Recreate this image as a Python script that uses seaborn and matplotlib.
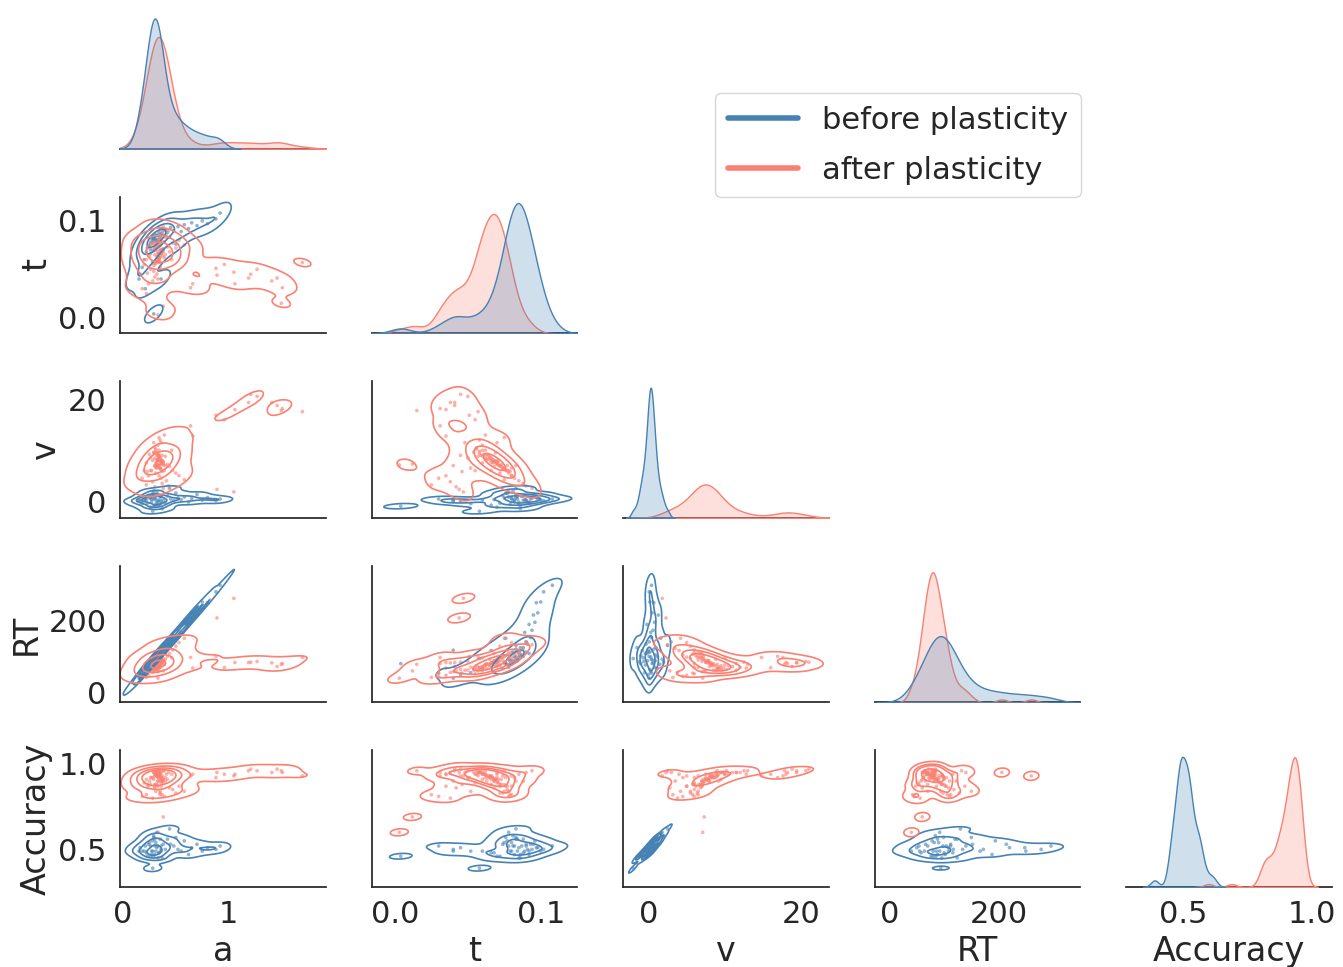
import pandas as pd
import matplotlib.pyplot as plt
import seaborn as sns
from matplotlib.lines import Line2D

groups = ["before plasticity", "after plasticity"]
colors = ["steelblue", "salmon"]
variables = ["a", "t", "v", "RT", "Accuracy"]

# per-variable axis ranges and ticks
limits = {"a": (-0.03, 1.92), "t": (-0.016, 0.125), "v": (-3.3, 23.6),
          "RT": (-27, 350), "Accuracy": (0.28, 1.08)}
ticks = {"a": [0, 1], "t": [0.0, 0.1], "v": [0, 20], "RT": [0, 200],
         "Accuracy": [0.5, 1.0]}

# before plasticity
before_a = [0.30, 0.28, 0.32, 0.26, 0.34, 0.29, 0.31, 0.27, 0.33, 0.25,
            0.36, 0.23, 0.38, 0.30, 0.28, 0.35, 0.22, 0.40, 0.31, 0.27,
            0.42, 0.20, 0.45, 0.33, 0.29, 0.48, 0.18, 0.52, 0.24, 0.37,
            0.55, 0.16, 0.58, 0.32, 0.62, 0.26, 0.65, 0.30, 0.70, 0.21,
            0.75, 0.34, 0.80, 0.44, 0.88, 0.28, 0.92, 0.50, 0.36, 0.15,
            0.29, 0.36]
before_t = [0.082, 0.080, 0.085, 0.078, 0.088, 0.083, 0.079, 0.084, 0.081, 0.075,
            0.087, 0.072, 0.090, 0.086, 0.077, 0.083, 0.068, 0.091, 0.080, 0.082,
            0.088, 0.060, 0.093, 0.085, 0.081, 0.090, 0.052, 0.094, 0.074, 0.086,
            0.089, 0.045, 0.096, 0.078, 0.092, 0.070, 0.098, 0.084, 0.095, 0.030,
            0.100, 0.066, 0.097, 0.083, 0.102, 0.058, 0.108, 0.076, 0.092, 0.040,
            0.004, 0.040]
before_v = [0.3, 0.5, -0.2, 0.8, 0.1, 1.2, -0.6, 0.4, 0.0, 0.6,
            0.9, -0.4, 0.2, -1.0, 1.5, 0.7, 0.3, -0.3, 0.5, -0.1,
            1.0, 0.2, 0.4, -0.7, 2.0, 0.1, -0.5, 0.6, 1.1, -1.5,
            0.3, 0.0, 0.8, 1.8, -0.2, -1.2, 0.5, 0.9, 1.3, 0.4,
            0.2, -0.8, 0.7, 2.5, 0.1, -2.0, 0.4, 1.6, -0.4, 0.1,
            -1.0, 0.0]
before_rt = [98, 80, 108, 70, 100, 99, 86, 92, 112, 82,
             104, 76, 112, 102, 78, 120, 58, 134, 90, 88,
             124, 64, 152, 96, 84, 140, 55, 172, 66, 124,
             166, 50, 194, 92, 188, 85, 220, 88, 214, 54,
             250, 116, 248, 130, 278, 94, 296, 150, 108, 40,
             80, 117]
before_acc = [0.52, 0.49, 0.51, 0.52, 0.48, 0.57, 0.49, 0.49, 0.52, 0.54,
              0.52, 0.46, 0.53, 0.47, 0.55, 0.56, 0.48, 0.50, 0.54, 0.47,
              0.56, 0.49, 0.53, 0.45, 0.58, 0.52, 0.49, 0.50, 0.53, 0.45,
              0.49, 0.51, 0.55, 0.60, 0.47, 0.46, 0.51, 0.56, 0.53, 0.52,
              0.49, 0.48, 0.51, 0.62, 0.50, 0.39, 0.52, 0.57, 0.49, 0.49,
              0.46, 0.50]

# after plasticity (last 17 values are the scattered outliers)
after_a = [0.33, 0.35, 0.31, 0.37, 0.30, 0.34, 0.32, 0.36, 0.29, 0.38,
           0.33, 0.27, 0.40, 0.31, 0.35, 0.25, 0.42, 0.34, 0.30, 0.28,
           0.44, 0.22, 0.36, 0.39, 0.26, 0.47, 0.32, 0.20, 0.41, 0.33,
           0.50, 0.24, 0.37, 0.29, 0.53, 0.18, 0.35, 0.43, 0.28, 0.58,
           0.30, 0.38, 0.22, 0.46, 0.34, 0.26, 0.31, 0.36, 0.40, 0.23,
           0.34, 0.36, 0.32, 0.35, 0.33, 0.37, 0.31, 0.38, 0.30, 0.34,
           0.36, 0.33, 0.35, 0.29, 0.39, 0.32, 0.37, 0.34, 0.31, 0.36,
           0.33, 0.35, 0.30, 0.38, 0.34, 0.32, 0.36, 0.35, 0.33, 0.37,
           1.05, 0.89, 1.19, 1.21, 1.27, 1.41, 1.46, 1.51, 1.70, 1.50,
           1.06, 0.96, 0.88, 0.64, 0.66, 0.38, 0.33]
after_t = [0.068, 0.066, 0.070, 0.064, 0.072, 0.062, 0.074, 0.067, 0.069, 0.071,
           0.060, 0.076, 0.065, 0.078, 0.058, 0.063, 0.073, 0.080, 0.056, 0.070,
           0.068, 0.060, 0.082, 0.062, 0.050, 0.077, 0.045, 0.055, 0.085, 0.040,
           0.072, 0.035, 0.088, 0.048, 0.080, 0.030, 0.052, 0.090, 0.038, 0.075,
           0.042, 0.094, 0.025, 0.060, 0.075, 0.066, 0.058, 0.070, 0.083, 0.046,
           0.062, 0.070, 0.058, 0.074, 0.066, 0.079, 0.056, 0.068, 0.072, 0.060,
           0.076, 0.064, 0.070, 0.054, 0.078, 0.063, 0.069, 0.061, 0.075, 0.067,
           0.059, 0.080, 0.065, 0.071, 0.057, 0.073, 0.066, 0.062, 0.077, 0.068,
           0.047, 0.044, 0.041, 0.045, 0.050, 0.038, 0.041, 0.031, 0.057, 0.015,
           0.035, 0.055, 0.051, 0.031, 0.035, 0.012, 0.003]
after_v = [8.0, 8.5, 7.5, 9.0, 7.0, 10.0, 6.5, 8.2, 9.5, 7.8,
           11.0, 6.0, 8.8, 5.5, 12.0, 9.2, 7.2, 5.0, 10.5, 8.0,
           6.8, 7.5, 4.5, 13.0, 8.5, 6.0, 9.0, 6.0, 4.0, 7.0,
           5.5, 5.0, 3.5, 11.5, 5.0, 4.5, 6.5, 3.0, 3.8, 4.2,
           2.8, 2.5, 3.2, 10.0, 12.5, 6.0, 9.8, 11.5, 7.0, 5.8,
           8.6, 7.2, 9.4, 6.4, 8.0, 5.8, 10.2, 7.6, 6.9, 8.9,
           6.2, 8.3, 7.4, 9.6, 6.0, 8.1, 7.8, 9.2, 6.6, 7.5,
           9.0, 6.5, 8.4, 7.1, 8.8, 6.8, 7.7, 8.2, 7.0, 7.9,
           1.8, 2.3, 19.4, 21.0, 20.6, 19.4, 18.8, 18.2, 17.6, 17.8,
           18.0, 16.0, 16.9, 14.8, 12.8, 7.3, 7.1]
after_rt = [82, 80, 84, 78, 86, 76, 90, 82, 74, 88,
            72, 80, 92, 94, 70, 66, 100, 98, 74, 72,
            108, 60, 104, 78, 62, 118, 64, 52, 116, 58,
            128, 48, 122, 62, 138, 45, 70, 140, 56, 150,
            60, 132, 42, 96, 84, 70, 68, 80, 110, 54,
            76, 92, 68, 98, 82, 106, 64, 88, 96, 72,
            102, 78, 90, 62, 110, 80, 86, 70, 100, 84,
            66, 112, 74, 94, 60, 96, 82, 76, 104, 88,
            260, 206, 83, 84, 86, 82, 72, 80, 97, 78,
            83, 69, 100, 97, 68, 60, 40]
after_acc = [0.90, 0.93, 0.94, 0.93, 0.87, 0.94, 0.93, 0.92, 0.91, 0.91,
             0.95, 0.92, 0.92, 0.84, 0.95, 0.90, 0.91, 0.93, 0.94, 0.92,
             0.86, 0.91, 0.92, 0.96, 0.92, 0.85, 0.93, 0.89, 0.94, 0.90,
             0.83, 0.87, 0.90, 0.95, 0.87, 0.81, 0.84, 0.95, 0.80, 0.84,
             0.86, 0.96, 0.82, 0.94, 0.96, 0.88, 0.95, 0.95, 0.90, 0.88,
             0.92, 0.89, 0.95, 0.83, 0.93, 0.82, 0.96, 0.91, 0.88, 0.94,
             0.87, 0.92, 0.90, 0.95, 0.81, 0.93, 0.91, 0.94, 0.88, 0.92,
             0.96, 0.82, 0.93, 0.89, 0.95, 0.88, 0.91, 0.94, 0.87, 0.90,
             0.93, 0.95, 0.96, 0.97, 0.96, 0.95, 0.97, 0.95, 0.93, 0.96,
             0.94, 0.94, 0.92, 0.93, 0.94, 0.69, 0.60]

before = pd.DataFrame({"a": before_a, "t": before_t, "v": before_v,
                       "RT": before_rt, "Accuracy": before_acc})
before["condition"] = groups[0]
after = pd.DataFrame({"a": after_a, "t": after_t, "v": after_v,
                      "RT": after_rt, "Accuracy": after_acc})
after["condition"] = groups[1]
df = pd.concat([before, after], ignore_index=True)

sns.set_theme(style="white", font_scale=2)
palette = dict(zip(groups, colors))

g = sns.pairplot(df, vars=variables, hue="condition", hue_order=groups,
                 palette=palette, corner=True, diag_kind="kde",
                 height=2, aspect=1.5,
                 plot_kws=dict(s=7, alpha=0.6, linewidth=0),
                 diag_kws=dict(common_norm=False, fill=True, linewidth=1,
                               bw_adjust=0.8))
g.map_lower(sns.kdeplot, levels=5, linewidths=1.2, bw_adjust=0.8)
g._legend.remove()

g.fig.set_size_inches(13.43, 9.67)
g.fig.subplots_adjust(left=120 / 1343, right=1332 / 1343, top=1 - 12 / 967,
                      bottom=1 - 887 / 967, wspace=0.224, hspace=0.35)

n = len(variables)
for j, var in enumerate(variables):
    g.axes[n - 1][j].set_xlim(limits[var])
    g.axes[n - 1][j].set_xticks(ticks[var])
for i, var in enumerate(variables):
    if i == 0:
        continue
    g.axes[i][0].set_ylim(limits[var])
    g.axes[i][0].set_yticks(ticks[var])

handles = [Line2D([0], [0], color=c, lw=4) for c in colors]
g.fig.legend(handles, groups, loc="upper left", fontsize=22,
             bbox_to_anchor=(700 / 1343, 1 - 78 / 967), handlelength=2.3,
             labelspacing=0.7, frameon=True)

plt.savefig("out.png", dpi=100)
plt.close()
